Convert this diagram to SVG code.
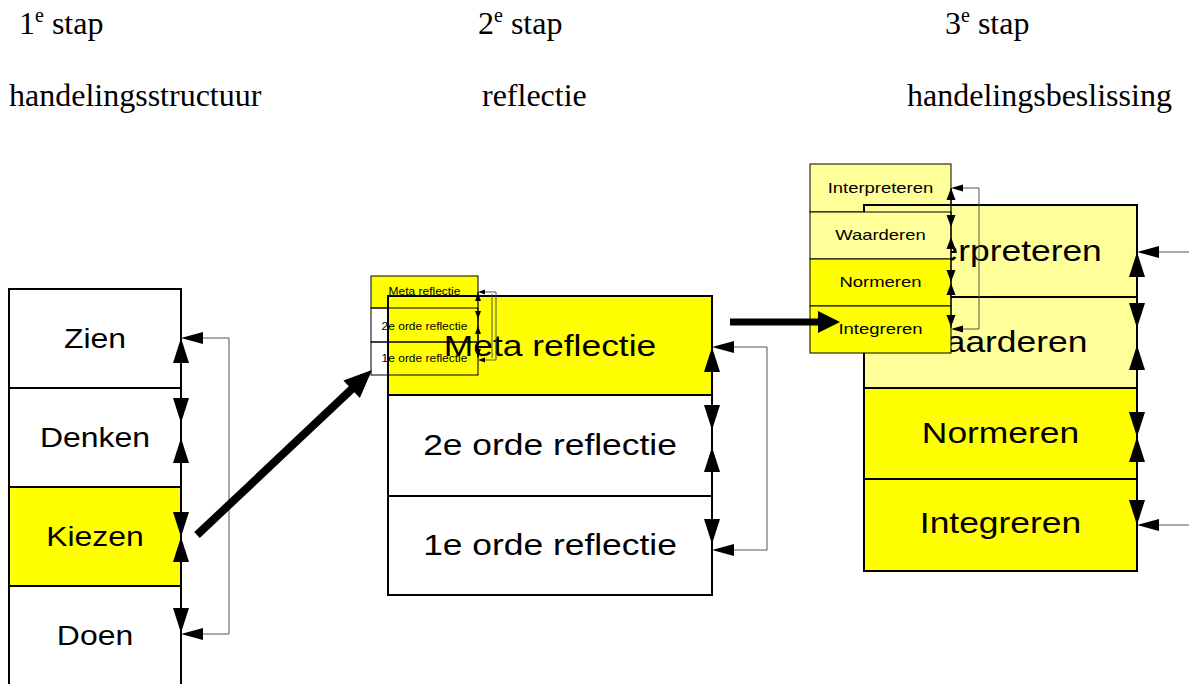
<svg xmlns="http://www.w3.org/2000/svg" xmlns:xlink="http://www.w3.org/1999/xlink" width="1189" height="684" viewBox="0 0 1189 684">
<style>
.hd{font-family:"Liberation Serif","Times New Roman",serif;font-size:32px;fill:#000}
.t{font-family:"Liberation Sans",Arial,sans-serif;fill:#000;text-anchor:middle}
.lt{font-size:28px}
.bt{font-size:30px}
.st{font-size:15px}
.mt{font-size:10.5px}
.row{stroke:#000;stroke-width:2}
.srow{stroke:#000;stroke-width:1}
.y{fill:#FFFF00}
.ly{fill:#FFFF99}
.w{fill:#FFFFFF}
.n{fill:none}
.ax{stroke:#000;stroke-width:2;fill:none}
.axs{stroke:#000;stroke-width:1.2;fill:none}
.ret{stroke:#555;stroke-width:1;fill:none}
.big{stroke:#000;stroke-width:8;fill:none}
.hz{stroke:#000;stroke-width:7;fill:none}
</style>
<defs>
<polygon id="au" points="0,0 -8,25 8,25"/>
<polygon id="ad" points="0,0 -8,-25 8,-25"/>
<polygon id="al" points="0,0 22,-6 22,6"/>
<polygon id="sau" points="0,0 -4.5,12 4.5,12"/>
<polygon id="sad" points="0,0 -4.5,-12 4.5,-12"/>
<polygon id="sal" points="0,0 12,-3.5 12,3.5"/>
<polygon id="mau" points="0,0 -3,8 3,8"/>
<polygon id="mad" points="0,0 -3,-8 3,-8"/>
<polygon id="mal" points="0,0 7,-2.5 7,2.5"/>
</defs>

<g id="headers">
<text class="hd" x="19" y="34">1<tspan font-size="20" dy="-12">e</tspan><tspan dy="12"> stap</tspan></text>
<text class="hd" x="478" y="34">2<tspan font-size="20" dy="-12">e</tspan><tspan dy="12"> stap</tspan></text>
<text class="hd" x="945" y="34">3<tspan font-size="20" dy="-12">e</tspan><tspan dy="12"> stap</tspan></text>
<text class="hd" x="9" y="106">handelingsstructuur</text>
<text class="hd" x="482" y="106">reflectie</text>
<text class="hd" x="907" y="106">handelingsbeslissing</text>
</g>

<!-- Stage 1 -->
<g id="node-zien"><rect class="row w" x="9" y="289" width="172" height="99"/><text class="t lt" transform="translate(95 348) scale(1.14 1)">Zien</text></g>
<g id="node-denken"><rect class="row w" x="9" y="388" width="172" height="99"/><text class="t lt" transform="translate(95 447) scale(1.14 1)">Denken</text></g>
<g id="node-kiezen"><rect class="row y" x="9" y="487" width="172" height="99"/><text class="t lt" transform="translate(95 546) scale(1.14 1)">Kiezen</text></g>
<g id="node-doen"><rect class="row w" x="9" y="586" width="172" height="104"/><text class="t lt" transform="translate(95 645) scale(1.14 1)">Doen</text></g>

<!-- Stage 2: small copy, top row under big -->
<g id="node-meta-small"><rect class="srow y" x="371" y="276" width="107" height="32"/><text class="t mt" transform="translate(424.5 295) scale(1.14 1)">Meta reflectie</text></g>

<g id="node-meta"><rect class="row y" x="388" y="296" width="324" height="99"/><text class="t bt" transform="translate(550 356) scale(1.18 1)">Meta reflectie</text></g>
<g id="node-orde2"><rect class="row w" x="388" y="395" width="324" height="101"/><text class="t bt" transform="translate(550 455) scale(1.18 1)">2e orde reflectie</text></g>
<g id="node-orde1"><rect class="row w" x="388" y="496" width="324" height="99"/><text class="t bt" transform="translate(550 555) scale(1.18 1)">1e orde reflectie</text></g>

<g id="node-orde2-small"><rect class="srow n" x="371" y="308" width="107" height="34"/><text class="t mt" transform="translate(424.5 330) scale(1.14 1)">2e orde reflectie</text></g>
<g id="node-orde1-small"><rect class="srow n" x="371" y="342" width="107" height="33"/><text class="t mt" transform="translate(424.5 362) scale(1.14 1)">1e orde reflectie</text></g>

<!-- Stage 3 -->
<g id="node-interpreteren-small"><rect class="srow ly" x="810" y="164" width="141" height="48"/><text class="t st" transform="translate(880.5 193) scale(1.23 1)">Interpreteren</text></g>

<g id="node-interpreteren"><rect class="row ly" x="864" y="205" width="273" height="92"/><text class="t bt" transform="translate(1000.5 261) scale(1.18 1)">Interpreteren</text></g>
<g id="node-waarderen"><rect class="row ly" x="864" y="297" width="273" height="91"/><text class="t bt" transform="translate(1000.5 352) scale(1.18 1)">Waarderen</text></g>
<g id="node-normeren"><rect class="row y" x="864" y="388" width="273" height="91"/><text class="t bt" transform="translate(1000.5 443) scale(1.18 1)">Normeren</text></g>
<g id="node-integreren"><rect class="row y" x="864" y="479" width="273" height="92"/><text class="t bt" transform="translate(1000.5 533) scale(1.18 1)">Integreren</text></g>

<g id="connectors">
<!-- stage 1 -->
<line class="ax" x1="181" y1="338" x2="181" y2="634"/>
<use href="#au" x="181" y="338"/>
<use href="#ad" x="181" y="423"/>
<use href="#au" x="181" y="438"/>
<use href="#ad" x="181" y="537"/>
<use href="#au" x="181" y="537"/>
<use href="#ad" x="181" y="633"/>
<polyline class="ret" points="203,338 229,338 229,634 203,634"/>
<use href="#al" x="181" y="338"/>
<use href="#al" x="181" y="634"/>
<!-- diagonal -->
<line class="big" x1="197" y1="535" x2="354" y2="387"/>
<polygon points="372,370 359.8,397.9 343.4,380.5"/>
<!-- stage 2 big -->
<line class="ax" x1="712" y1="347" x2="712" y2="549"/>
<use href="#au" x="712" y="347"/>
<use href="#ad" x="712" y="430"/>
<use href="#au" x="712" y="447"/>
<use href="#ad" x="712" y="544"/>
<polyline class="ret" points="734,347 767,347 767,550 734,550"/>
<use href="#al" x="712" y="347"/>
<use href="#al" x="712" y="550"/>
<!-- stage 2 small -->
<line class="axs" x1="478" y1="292" x2="478" y2="358"/>
<use href="#mau" x="478" y="293"/>
<use href="#mad" x="478" y="319"/>
<use href="#mau" x="478" y="326"/>
<use href="#mad" x="478" y="357"/>
<polyline class="ret" points="484,292 496,292 496,360 484,360"/>
<line class="ret" x1="492" y1="294" x2="492" y2="358"/>
<use href="#mal" x="478" y="292"/>
<use href="#mal" x="478" y="360"/>
<!-- stage 3 big -->
<line class="ax" x1="1137" y1="252" x2="1137" y2="525"/>
<use href="#au" x="1137" y="252"/>
<use href="#ad" x="1137" y="328"/>
<use href="#au" x="1137" y="345"/>
<use href="#ad" x="1137" y="437"/>
<use href="#au" x="1137" y="437"/>
<use href="#ad" x="1137" y="525"/>
<line class="ret" x1="1159" y1="252" x2="1189" y2="252"/>
<line class="ret" x1="1159" y1="525" x2="1189" y2="525"/>
<use href="#al" x="1137" y="252"/>
<use href="#al" x="1137" y="525"/>
</g>

<g id="node-waarderen-small"><rect class="srow ly" x="810" y="212" width="141" height="47"/><text class="t st" transform="translate(880.5 240) scale(1.23 1)">Waarderen</text></g>
<g id="node-normeren-small"><rect class="srow y" x="810" y="259" width="141" height="47"/><text class="t st" transform="translate(880.5 287) scale(1.23 1)">Normeren</text></g>
<g id="node-integreren-small"><rect class="srow y" x="810" y="306" width="141" height="47"/><text class="t st" transform="translate(880.5 334) scale(1.23 1)">Integreren</text></g>

<g id="connectors-small">
<line class="axs" x1="951" y1="188" x2="951" y2="328"/>
<use href="#sau" x="951" y="188"/>
<use href="#sad" x="951" y="227"/>
<use href="#sau" x="951" y="237"/>
<use href="#sad" x="951" y="282"/>
<use href="#sau" x="951" y="283"/>
<use href="#sad" x="951" y="327"/>
<polyline class="ret" points="961,188 979,188 979,329 961,329"/>
<use href="#sal" x="951" y="188"/>
<use href="#sal" x="951" y="329"/>
<line class="hz" x1="730" y1="322" x2="820" y2="322"/>
<polygon points="840,322 818,311 818,333"/>
</g>
</svg>
